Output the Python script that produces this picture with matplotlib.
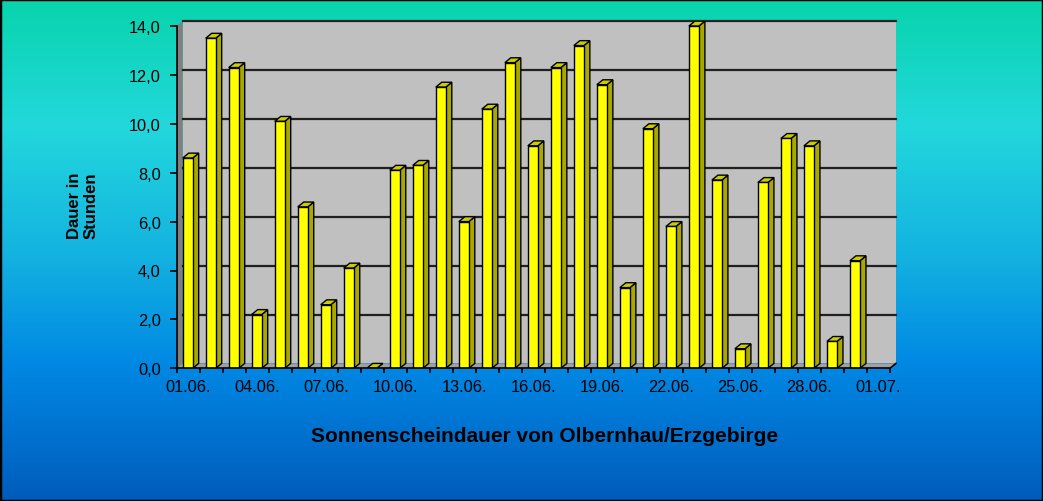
import numpy as np
import matplotlib
matplotlib.use("Agg")
import matplotlib.pyplot as plt
from matplotlib.patches import Polygon, Rectangle
from matplotlib.colors import LinearSegmentedColormap

plt.rcParams['font.family'] = ['Liberation Sans', 'DejaVu Sans']

# ---- data ----
categories = ["01.06.", "02.06.", "03.06.", "04.06.", "05.06.", "06.06.", "07.06.", "08.06.",
              "09.06.", "10.06.", "11.06.", "12.06.", "13.06.", "14.06.", "15.06.", "16.06.",
              "17.06.", "18.06.", "19.06.", "20.06.", "21.06.", "22.06.", "23.06.", "24.06.",
              "25.06.", "26.06.", "27.06.", "28.06.", "29.06.", "30.06.", "01.07."]
hours = [8.6, 13.5, 12.3, 2.2, 10.1, 6.6, 2.6, 4.1,
         0.0, 8.1, 8.3, 11.5, 6.0, 10.6, 12.5, 9.1,
         12.3, 13.2, 11.6, 3.3, 9.8, 5.8, 14.0, 7.7,
         0.8, 7.6, 9.4, 9.1, 1.1, 4.4, None]
y_ticks = [0, 2, 4, 6, 8, 10, 12, 14]
y_tick_labels = ["0,0", "2,0", "4,0", "6,0", "8,0", "10,0", "12,0", "14,0"]
label_every = 3
y_title = "Dauer in\nStunden"
x_title = "Sonnenscheindauer von Olbernhau/Erzgebirge"

# ---- style ----
W, H = 1043, 502
fig = plt.figure(figsize=(W / 100, H / 100), dpi=100)

# background gradient
bg = fig.add_axes([0, 0, 1, 1], zorder=-10)
cmap = LinearSegmentedColormap.from_list("bg", [
    (0.0, "#08D4AC"), (0.25, "#22D8DC"), (0.5, "#14B4E0"),
    (0.73, "#0088E4"), (1.0, "#005CBC")])
grad = np.linspace(0, 1, 256).reshape(-1, 1)
bg.imshow(grad, aspect="auto", cmap=cmap, extent=[0, 1, 0, 1], origin="upper")
bg.set_xlim(0, 1); bg.set_ylim(0, 1)
bg.axis("off")
fig.patches.append(Rectangle((0, 0), 1, 1, transform=fig.transFigure, fill=False,
                             edgecolor="black", linewidth=2.5, zorder=100))

n = len(categories)
dx, dy = 0.26, 0.2          # 3D depth offsets in data units
bo, bw = 0.26, 0.435        # bar front offset and width within a category
ymax = max(y_ticks)

left_px, bottom_px = 176.7, 369.3
px_per_cat = 23.01
px_per_unit = 24.45
ax_w = (n + dx) * px_per_cat
ax_h = (ymax + dy) * px_per_unit
ax = fig.add_axes([left_px / W, (H - bottom_px) / H, ax_w / W, ax_h / H])
ax.set_facecolor("none")
ax.set_xlim(0, n + dx)
ax.set_ylim(0, ymax + dy)

# walls
ax.add_patch(Rectangle((dx, dy), n, ymax, facecolor="#C0C0C0", edgecolor="none", zorder=0))
ax.add_patch(Polygon([(0, 0), (dx, dy), (dx, ymax + dy), (0, ymax)], closed=True,
                     facecolor="#808080", edgecolor="none", zorder=0))
ax.add_patch(Polygon([(0, 0), (n, 0), (n + dx, dy), (dx, dy)], closed=True,
                     facecolor="#A0A0A0", edgecolor="none", zorder=0))
ax.plot([n, n + dx], [0, dy], color="black", lw=1.2, zorder=1, clip_on=False)
for v in y_ticks[1:]:
    ax.plot([dx, n + dx], [v + dy, v + dy], color="#202020", lw=1.6, zorder=1, clip_on=False)

# bars
for i, v in enumerate(hours):
    if v is None:
        continue
    x0 = i + bo
    ec = dict(edgecolor="black", linewidth=1.0, joinstyle="miter")
    ax.add_patch(Polygon([(x0 + bw, 0), (x0 + bw + dx, dy), (x0 + bw + dx, v + dy), (x0 + bw, v)],
                         closed=True, facecolor="#A8A800", zorder=3, **ec))
    ax.add_patch(Polygon([(x0, v), (x0 + bw, v), (x0 + bw + dx, v + dy), (x0 + dx, v + dy)],
                         closed=True, facecolor="#CCCC00", zorder=3, **ec))
    if v > 0:
        ax.add_patch(Rectangle((x0, 0), bw, v, facecolor="#FFFF00", zorder=4, **ec))

# axes / ticks
for s in ["top", "right"]:
    ax.spines[s].set_visible(False)
ax.spines["left"].set_bounds(0, ymax)
ax.spines["bottom"].set_bounds(0, n)
for s in ["left", "bottom"]:
    ax.spines[s].set_linewidth(1.2)
    ax.spines[s].set_zorder(5)

ax.set_yticks(y_ticks)
ax.set_yticklabels(y_tick_labels)
ax.tick_params(axis="y", direction="out", length=5, width=1.2, pad=6.5, labelsize=11.8,
               colors="black")
ax.set_xticks(np.arange(0, n + 1))
ax.set_xticklabels([])
ax.tick_params(axis="x", which="major", direction="out", length=3.5, width=1.2)
ax.set_xticks([i + 0.5 for i in range(0, n, label_every)], minor=True)
ax.set_xticklabels([categories[i] for i in range(0, n, label_every)], minor=True)
ax.tick_params(axis="x", which="minor", length=0, pad=8, labelsize=11.8)

fig.text(83 / W, 1 - 206 / H, y_title, rotation=90, ha="center", va="center",
         multialignment="center", fontsize=12, fontweight="bold", linespacing=1.15)
fig.text(545 / W, 1 - 437 / H, x_title, ha="center", va="center",
         fontsize=15, fontweight="bold")

fig.savefig("out.png", dpi=100)
